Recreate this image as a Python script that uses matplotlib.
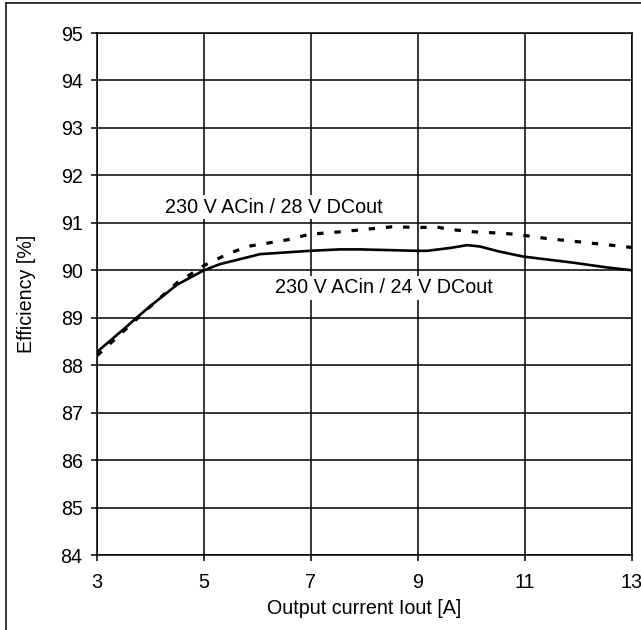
import matplotlib
matplotlib.use("Agg")
import matplotlib.pyplot as plt
from matplotlib.lines import Line2D

plt.rcParams['font.family'] = ['Liberation Sans', 'DejaVu Sans']

# 230 V ACin / 24 V DCout (solid)
i_24 = [3.0, 3.5, 3.74, 4.0, 4.49, 4.7, 5.0, 5.3, 6.05, 6.98, 7.54, 7.92, 8.98, 9.17, 9.6, 9.92, 10.16, 10.5, 10.96, 11.9, 12.53, 13.0]
eff_24 = [88.28, 88.76, 89.0, 89.25, 89.69, 89.82, 90.0, 90.13, 90.34, 90.41, 90.44, 90.44, 90.41, 90.41, 90.47, 90.53, 90.5, 90.4, 90.29, 90.16, 90.06, 90.0]

# 230 V ACin / 28 V DCout (dashed)
i_28 = [3.0, 3.5, 4.0, 4.5, 4.7, 5.0, 5.4, 5.8, 6.55, 6.98, 7.54, 8.0, 8.54, 8.98, 9.36, 9.6, 10.04, 10.6, 10.96, 11.4, 12.0, 12.6, 13.0]
eff_28 = [88.2, 88.72, 89.24, 89.74, 89.88, 90.1, 90.32, 90.5, 90.64, 90.76, 90.81, 90.86, 90.92, 90.9, 90.91, 90.86, 90.81, 90.78, 90.74, 90.67, 90.6, 90.53, 90.48]

x_ticks = [3, 5, 7, 9, 11, 13]
y_ticks = list(range(84, 96))

fs = 14.2

fig = plt.figure(figsize=(6.41, 6.30), dpi=100)
ax = fig.add_axes([97 / 641, 75 / 630, 535 / 641, 522 / 630])

ax.plot(i_24, eff_24, color='black', lw=1.9, solid_capstyle='butt')
ax.plot(i_28, eff_28, color='black', lw=2.3, linestyle=(0, (2, 3.4)), dash_capstyle='butt')

ax.set_xlim(3, 13)
ax.set_ylim(84, 95)
ax.set_xticks(x_ticks)
ax.set_yticks(y_ticks)
ax.grid(True, color='black', lw=1.1)
ax.set_axisbelow(True)
for s in ax.spines.values():
    s.set_linewidth(1.1)
ax.tick_params(direction='out', length=4.3, width=1.1, labelsize=fs)
ax.tick_params(axis='x', pad=9)
ax.tick_params(axis='y', pad=6)

ax.set_xlabel('Output current Iout [A]', fontsize=fs, labelpad=5)
ax.set_ylabel('Efficiency [%]', fontsize=fs, labelpad=18)

box = dict(facecolor='white', edgecolor='none', pad=2)
ax.text(6.31, 91.33, '230 V ACin / 28 V DCout', fontsize=fs, ha='center', va='center', bbox=box)
ax.text(8.36, 89.63, '230 V ACin / 24 V DCout', fontsize=fs, ha='center', va='center', bbox=box)

# outer frame (top and left edges visible)
fig.add_artist(Line2D([6 / 641, 1], [1 - 3 / 630, 1 - 3 / 630], color='black', lw=1.1, transform=fig.transFigure))
fig.add_artist(Line2D([6 / 641, 6 / 641], [0, 1 - 3 / 630], color='black', lw=1.1, transform=fig.transFigure))

fig.savefig('out.png', dpi=100)
